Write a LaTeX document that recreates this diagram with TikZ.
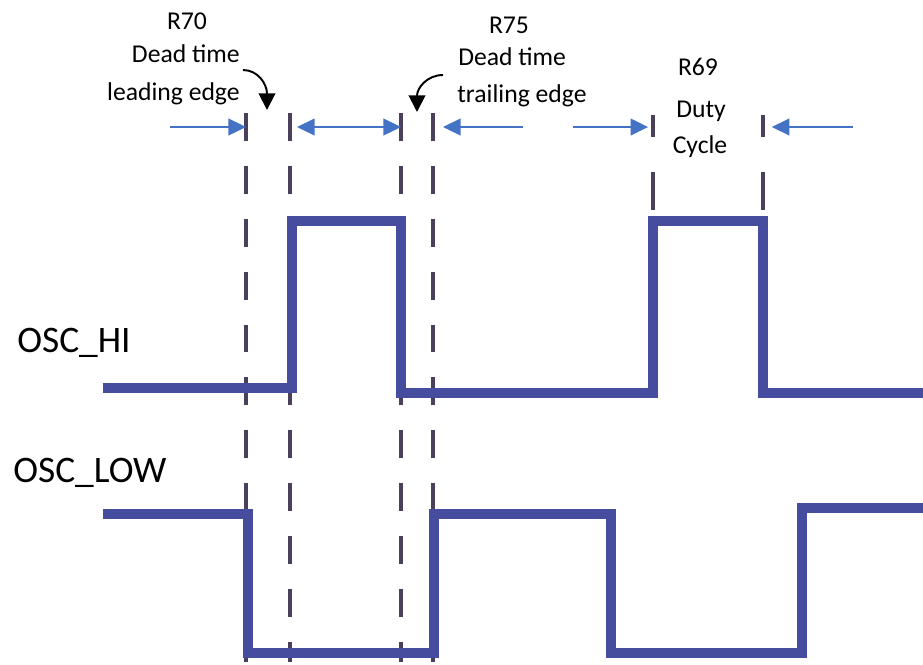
\documentclass[tikz,border=0pt]{standalone}
\usepackage{fontspec}
\setmainfont{Carlito}
\usetikzlibrary{arrows.meta,positioning}

\definecolor{wavecol}{RGB}{70,76,158}
\definecolor{guidecol}{RGB}{75,64,92}
\definecolor{spancol}{RGB}{68,114,196}

\tikzset{
  wave/.style={line width=6.2pt, color=wavecol, line join=miter},
  guide/.style={line width=2.2pt, color=guidecol, dash pattern=on 15.9pt off 14.2pt},
  dutyguide/.style={line width=2.2pt, color=guidecol, dash pattern=on 12.5pt off 19.8pt on 22pt off 40pt},
  span/.style={line width=1.1pt, color=spancol, -{Triangle[length=10pt,width=9.5pt]}},
  bispan/.style={line width=1.1pt, color=spancol, {Triangle[length=10pt,width=9.5pt]}-{Triangle[length=10pt,width=9.5pt]}},
  hint/.style={line width=1.1pt, -{Triangle[length=9.5pt,width=9.5pt]}},
  lbl/.style={font=\fontsize{14.6}{17}\selectfont, inner sep=0pt},
  sig/.style={font=\fontsize{21.3}{25}\selectfont, inner sep=0pt},
}

\begin{document}
\begin{tikzpicture}[x=0.02cm,y=-0.02cm]
\useasboundingbox (0,0) rectangle (923,664);

% dead time guides
\foreach \n/\x in {gA/246,gB/290,gC/401,gD/433}{
  \coordinate (\n) at (\x,113);
  \draw[guide] (\n) -- (\x,662);
}
% duty cycle guides
\coordinate (gE) at (653,115);
\coordinate (gF) at (763,115);
\draw[dutyguide] (gE) -- ++(0,97);
\draw[dutyguide] (gF) -- ++(0,97);

% signals
\draw[wave] (103,388) -- (292,388) -- (292,221) -- (401,221) -- (401,393)
  -- (653,393) -- (653,221) -- (763,221) -- (763,393) -- (923,393);
\draw[wave] (103,514) -- (248,514) -- (248,653) -- (434,653) -- (434,514)
  -- (611,514) -- (611,653) -- (802,653) -- (802,508) -- (923,508);

\node[sig, anchor=base west] (hi) at (17,352) {OSC\_HI};
\node[sig, anchor=base west] (low) at (13,482) {OSC\_LOW};

% span arrows
\coordinate (inA) at (170,127);
\coordinate (inD) at (523,127);
\coordinate (inE) at (573,127);
\coordinate (inF) at (853,127);
\draw[span] (inA) -- (inA -| gA);
\draw[bispan, shorten <=4pt] (inA -| gB) -- (inA -| gC);
\draw[span, shorten >=5.7pt] (inD) -- (inD -| gD);
\draw[span, shorten >=2.8pt] (inE) -- (inE -| gE);
\draw[span, shorten >=5pt] (inF) -- (inF -| gF);

% labels
\node[lbl, anchor=base] (r70) at (187,29) {R70};
\node[lbl, anchor=base east] (dt70) at (240,62) {Dead time};
\node[lbl, anchor=base east] (le70) at (240,100) {leading edge};
\node[lbl, anchor=base] (r75) at (509,33) {R75};
\node[lbl, anchor=base west] (dt75) at (458,65) {Dead time};
\node[lbl, anchor=base west] (te75) at (457,102) {trailing edge};
\node[lbl, anchor=base] (r69) at (698,75) {R69};
\node[lbl, anchor=base] (duty) at (701,117) {Duty};
\node[lbl, anchor=base] (cyc) at (700,153) {Cycle};

% pointers
\coordinate (c70) at (243,70);
\coordinate (c75) at (443,75);
\draw[hint] (c70) .. controls (258,70) and (267,84) .. (267,110);
\draw[hint] (c75) .. controls (427,75) and (417,88) .. (417,112);
\end{tikzpicture}
\end{document}
